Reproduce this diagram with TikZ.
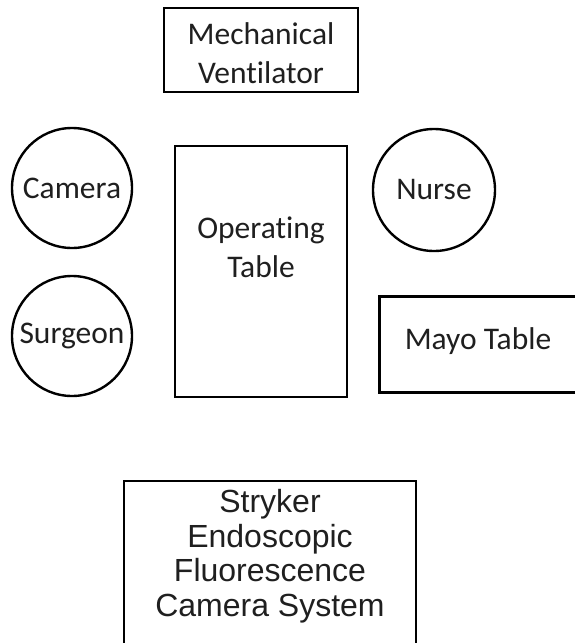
\documentclass[tikz,border=0pt]{standalone}
\usepackage{fontspec}
\setmainfont{Carlito}[Ligatures=NoCommon]
\newfontfamily\arialfont{Liberation Sans}
\begin{document}
\begin{tikzpicture}[x=1pt,y=-1pt,
  every node/.style={text=black!88},
  box/.style={draw=black, line width=2.8pt, rectangle, inner sep=0pt},
  edge/.style={draw=black, line width=2.8pt, line join=miter},
  person/.style={draw=black, line width=2.4pt, circle, inner sep=0pt, minimum size=120pt,
     font=\fontsize{31.5}{39}\selectfont},
  lbl/.style={align=center, inner sep=0pt, font=\fontsize{31.5}{39}\selectfont},
  albl/.style={align=center, inner sep=0pt, font=\arialfont\fontsize{32}{34.5}\selectfont}]
\useasboundingbox (0,0) rectangle (575,643);
% Mechanical ventilator
\node[box, minimum width=194pt, minimum height=84pt] (vent) at (261,50) {};
\node[lbl] (ventlbl) at (261,53) {Mechanical\\Ventilator};
% people
\node[person] (camera) at (72,188) {Camera};
\node[person] (surgeon) at (72,336) {Surgeon};
\node[person, minimum size=122pt] (nurse) at (434,190) {Nurse};
% operating table
\node[box, minimum width=172pt, minimum height=251pt] (optable) at (261,271.5) {};
\node[lbl] (optablelbl) at (261,247) {Operating\\Table};
% mayo table (right side runs off the picture)
\node[inner sep=0pt, minimum width=204pt, minimum height=95pt] (mayo) at (482,344.5) {};
\draw[edge] (mayo.north east) -- (mayo.north west) -- (mayo.south west) -- (mayo.south east);
\node[lbl] (mayolbl) at (478,341) {Mayo Table};
% Stryker system
\node[box, minimum width=292pt, minimum height=180pt] (stryker) at (270,571) {};
\node[albl] (strykerlbl) at (270,556) {Stryker\\Endoscopic\\Fluorescence\\Camera System};
\end{tikzpicture}
\end{document}
